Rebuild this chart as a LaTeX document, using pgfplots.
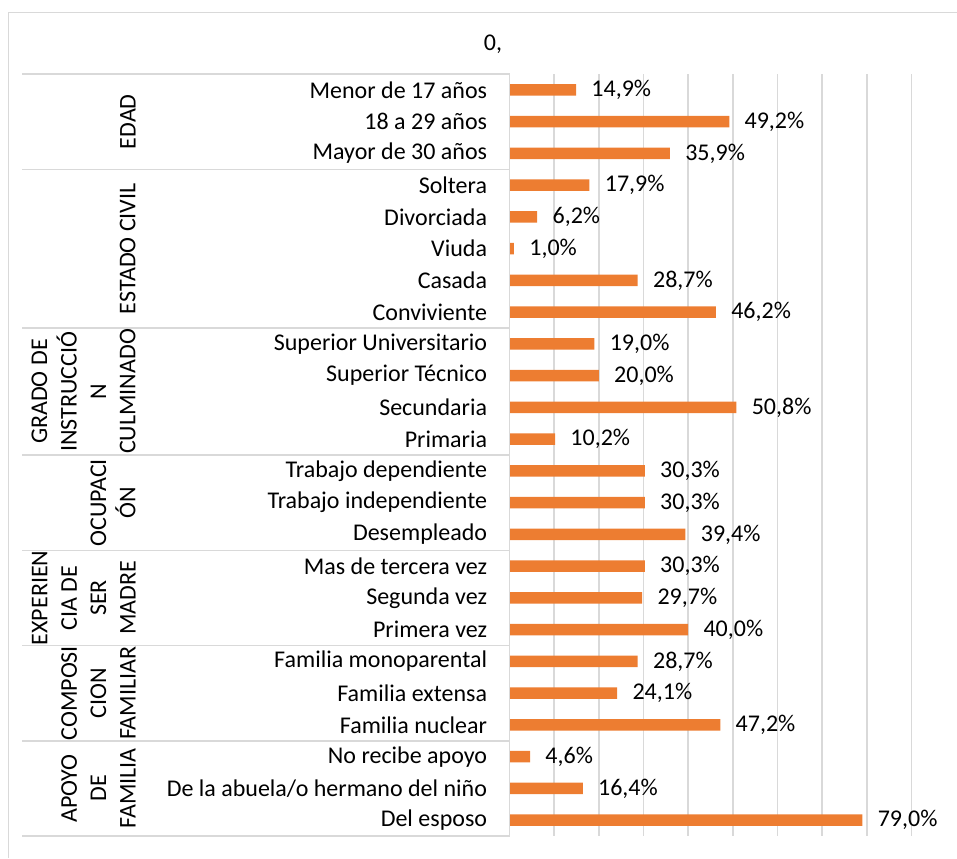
\documentclass[border=0pt]{standalone}
\usepackage{fontspec}
\setmainfont{Carlito}
\usepackage{pgfplots}
\pgfplotsset{compat=1.18}
\definecolor{barc}{HTML}{ED7D31}
\definecolor{gridc}{HTML}{D9D9D9}
\newcommand\chartfont{\fontsize{12}{14.7}\selectfont}

\pgfplotstableread[col sep=comma]{
pos,val
0,14.9
1,49.2
2,35.9
3,17.9
4,6.2
5,1.0
6,28.7
7,46.2
8,19.0
9,20.0
10,50.8
11,10.2
12,30.3
13,30.3
14,39.4
15,30.3
16,29.7
17,40.0
18,28.7
19,24.1
20,47.2
21,4.6
22,16.4
23,79.0
}\datatable

\begin{document}
\begin{tikzpicture}[font=\chartfont]
\path[use as bounding box] (0,0) rectangle (478.5pt,-429pt);
% chart area border (only left and top are inside the picture)
\draw[gridc, line width=0.75pt] (4.25pt,-429pt) -- (4.25pt,-6.25pt) -- (478.5pt,-6.25pt);
\node at (246.5pt,-22pt) {0,};
\begin{axis}[
    at={(254.75pt,-418pt)}, anchor=south west,
    scale only axis,
    width=201pt, height=381pt,
    xbar, bar width=5.7pt, bar shift=0pt,
    xmin=0, xmax=90,
    ymin=-0.5, ymax=23.5,
    y dir=reverse,
    xtick={0,10,...,90}, xticklabels={},
    xmajorgrids,
    grid style={gridc, line width=0.75pt},
    ytick={0,...,23},
    yticklabels={Menor de 17 años, 18 a 29 años, Mayor de 30 años,
      Soltera\ , Divorciada, Viuda, Casada, Conviviente,
      Superior Universitario, Superior Técnico, Secundaria, Primaria,
      Trabajo dependiente, Trabajo independiente, Desempleado\ ,
      Mas de tercera vez, Segunda vez, Primera vez,
      Familia monoparental, Familia extensa, Familia nuclear,
      No recibe apoyo, De la abuela/o hermano del niño, Del esposo},
    yticklabel style={anchor=east, inner sep=0pt, xshift=-6.75pt, font=\chartfont},
    axis line style={draw=none},
    tick style={draw=none},
    clip=false,
    /pgf/number format/assume math mode=true,
    nodes near coords={\pgfmathprintnumber[fixed,fixed zerofill,precision=1,use comma]{\pgfplotspointmeta}\%},
    nodes near coords style={anchor=west, inner sep=0pt, xshift=7.5pt, font=\chartfont},
  ]
  \addplot[fill=barc, draw=none] table[x=val, y=pos] {\datatable};

  % left axis line
  \draw[gridc, line width=0.75pt] (axis cs:0,-0.5) -- (axis cs:0,23.5);
  % group separators
  \pgfplotsinvokeforeach{-0.5,2.5,7.5,11.5,14.5,17.5,20.5,23.5}{
    \draw[gridc, line width=0.75pt] (axis cs:0,#1) -- ++(-243.75pt,0pt);
  }
  % group labels
  \begin{scope}[every node/.style={rotate=90, anchor=south, align=center, inner sep=0pt, font=\chartfont}]
    \node at ([xshift=-186.75pt]axis cs:0,1) {EDAD};
    \node at ([xshift=-186.75pt]axis cs:0,5) {ESTADO CIVIL};
    \node at ([xshift=-186.75pt]axis cs:0,9.5) {GRADO DE\\INSTRUCCIÓ\\N\\CULMINADO};
    \node at ([xshift=-186.75pt]axis cs:0,13) {OCUPACI\\ÓN};
    \node at ([xshift=-186.75pt]axis cs:0,16) {EXPERIEN\\CIA DE\\SER\\MADRE};
    \node at ([xshift=-186.75pt]axis cs:0,19) {COMPOSI\\CION\\FAMILIAR};
    \node at ([xshift=-186.75pt]axis cs:0,22) {APOYO\\DE\\FAMILIA};
  \end{scope}
\end{axis}
\end{tikzpicture}
\end{document}
